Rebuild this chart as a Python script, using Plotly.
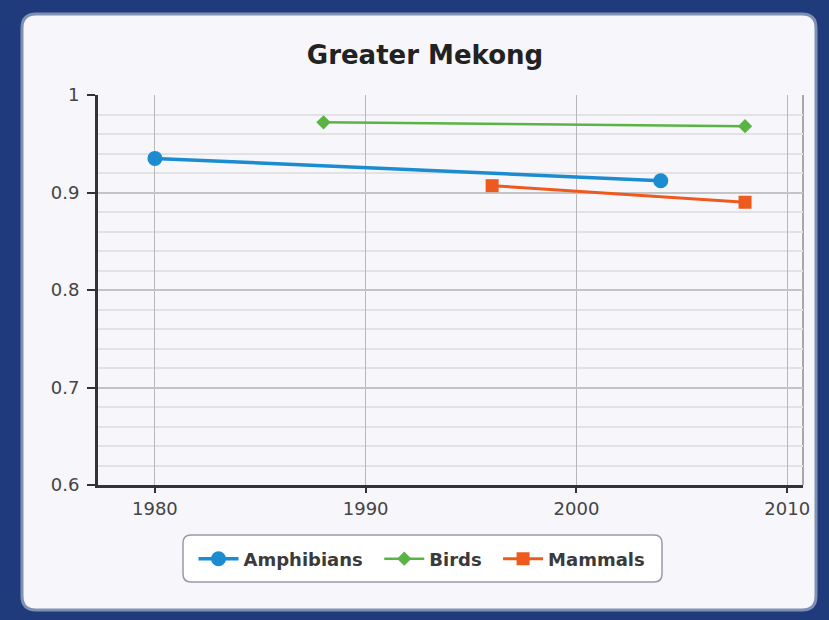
import plotly.graph_objects as go

amph_years = [1980, 2004]
amph_vals = [0.935, 0.912]
bird_years = [1988, 2008]
bird_vals = [0.972, 0.968]
mamm_years = [1996, 2008]
mamm_vals = [0.907, 0.890]
x_ticks = [1980, 1990, 2000, 2010]
y_ticks = [0.6, 0.7, 0.8, 0.9, 1.0]
y_tick_labels = ["0.6", "0.7", "0.8", "0.9", "1"]

W, H = 829, 620
L, R, T, B = 98, 26, 95, 135
pw, ph = W - L - R, H - T - B
BG = "#1f3b7c"
NB = "\u00a0\u00a0"

def px(x):
    return (x - L) / pw

def py(y):
    return (H - B - y) / ph

def rrect(x0, y0, x1, y1, r):
    rx, ry = r / pw, r / ph
    X0, X1 = px(x0), px(x1)
    Y0, Y1 = py(y0), py(y1)
    return (f"M {X0+rx},{Y0} L {X1-rx},{Y0} Q {X1},{Y0} {X1},{Y0-ry} "
            f"L {X1},{Y1+ry} Q {X1},{Y1} {X1-rx},{Y1} L {X0+rx},{Y1} "
            f"Q {X0},{Y1} {X0},{Y1+ry} L {X0},{Y0-ry} Q {X0},{Y0} {X0+rx},{Y0} Z")

fig = go.Figure()
fig.add_trace(go.Scatter(x=amph_years, y=amph_vals, name="<b>Amphibians</b>" + NB, mode="lines+markers",
                         line=dict(color="#1b8cd0", width=3.5),
                         marker=dict(symbol="circle", size=15, color="#1b8cd0")))
fig.add_trace(go.Scatter(x=bird_years, y=bird_vals, name="<b>Birds</b>" + NB, mode="lines+markers",
                         line=dict(color="#5ab443", width=2.5),
                         marker=dict(symbol="diamond", size=11, color="#5ab443")))
fig.add_trace(go.Scatter(x=mamm_years, y=mamm_vals, name="<b>Mammals</b>", mode="lines+markers",
                         line=dict(color="#ee5a1e", width=3),
                         marker=dict(symbol="square", size=13, color="#ee5a1e")))

shapes = [
    dict(type="path", xref="paper", yref="paper", path=rrect(22, 14, 816, 610, 14),
         fillcolor="#f6f6fb", line=dict(color="#7e91b4", width=3), layer="below"),
    dict(type="line", xref="paper", yref="paper", x0=1, x1=1, y0=0, y1=1,
         line=dict(color="#a8a8a8", width=2), layer="below"),
    dict(type="path", xref="paper", yref="paper", path=rrect(183, 535, 662, 582, 8),
         fillcolor="#ffffff", line=dict(color="#9a9aa6", width=1.5), layer="below"),
]

fig.update_layout(
    width=W, height=H,
    margin=dict(l=L, r=R, t=T, b=B),
    paper_bgcolor=BG,
    plot_bgcolor="#ffffff",
    shapes=shapes,
    title=dict(text="<b>Greater Mekong</b>", x=425 / W, xanchor="center",
               y=1 - 55 / H, yanchor="middle",
               font=dict(family="DejaVu Sans", size=26, color="#222222")),
    showlegend=True,
    legend=dict(orientation="h", x=px(422), xanchor="center", y=py(559), yanchor="middle",
                bgcolor="rgba(0,0,0,0)", borderwidth=0,
                font=dict(family="DejaVu Sans", size=18, color="#3a3a3a"),
                itemwidth=40, tracegroupgap=0),
    font=dict(family="DejaVu Sans", color="#333333"),
)

fig.update_xaxes(range=[1977.3, 2010.75], tickvals=x_ticks, ticktext=[str(v) for v in x_ticks],
                 showgrid=True, gridcolor="#b8b8b8", gridwidth=1,
                 showline=True, linecolor="#333333", linewidth=3,
                 ticks="outside", ticklen=5, tickcolor="#333333", tickwidth=2,
                 tickfont=dict(family="DejaVu Sans", size=18, color="#444444"),
                 zeroline=False, fixedrange=True)
fig.update_yaxes(range=[0.6, 1.0], tickvals=y_ticks, ticktext=y_tick_labels,
                 showgrid=True, gridcolor="#c4c4c4", gridwidth=2,
                 minor=dict(dtick=0.02, showgrid=True, gridcolor="#e2e2e2", gridwidth=1.5, ticks=""),
                 showline=True, linecolor="#333333", linewidth=3,
                 ticks="outside", ticklen=8, tickcolor="#333333", tickwidth=2,
                 ticklabelstandoff=4,
                 tickfont=dict(family="DejaVu Sans", size=18, color="#444444"),
                 zeroline=False, fixedrange=True)

fig.write_html("out.html", config={"displayModeBar": False},
               post_script=f"document.body.style.margin='0';document.body.style.background='{BG}';")
